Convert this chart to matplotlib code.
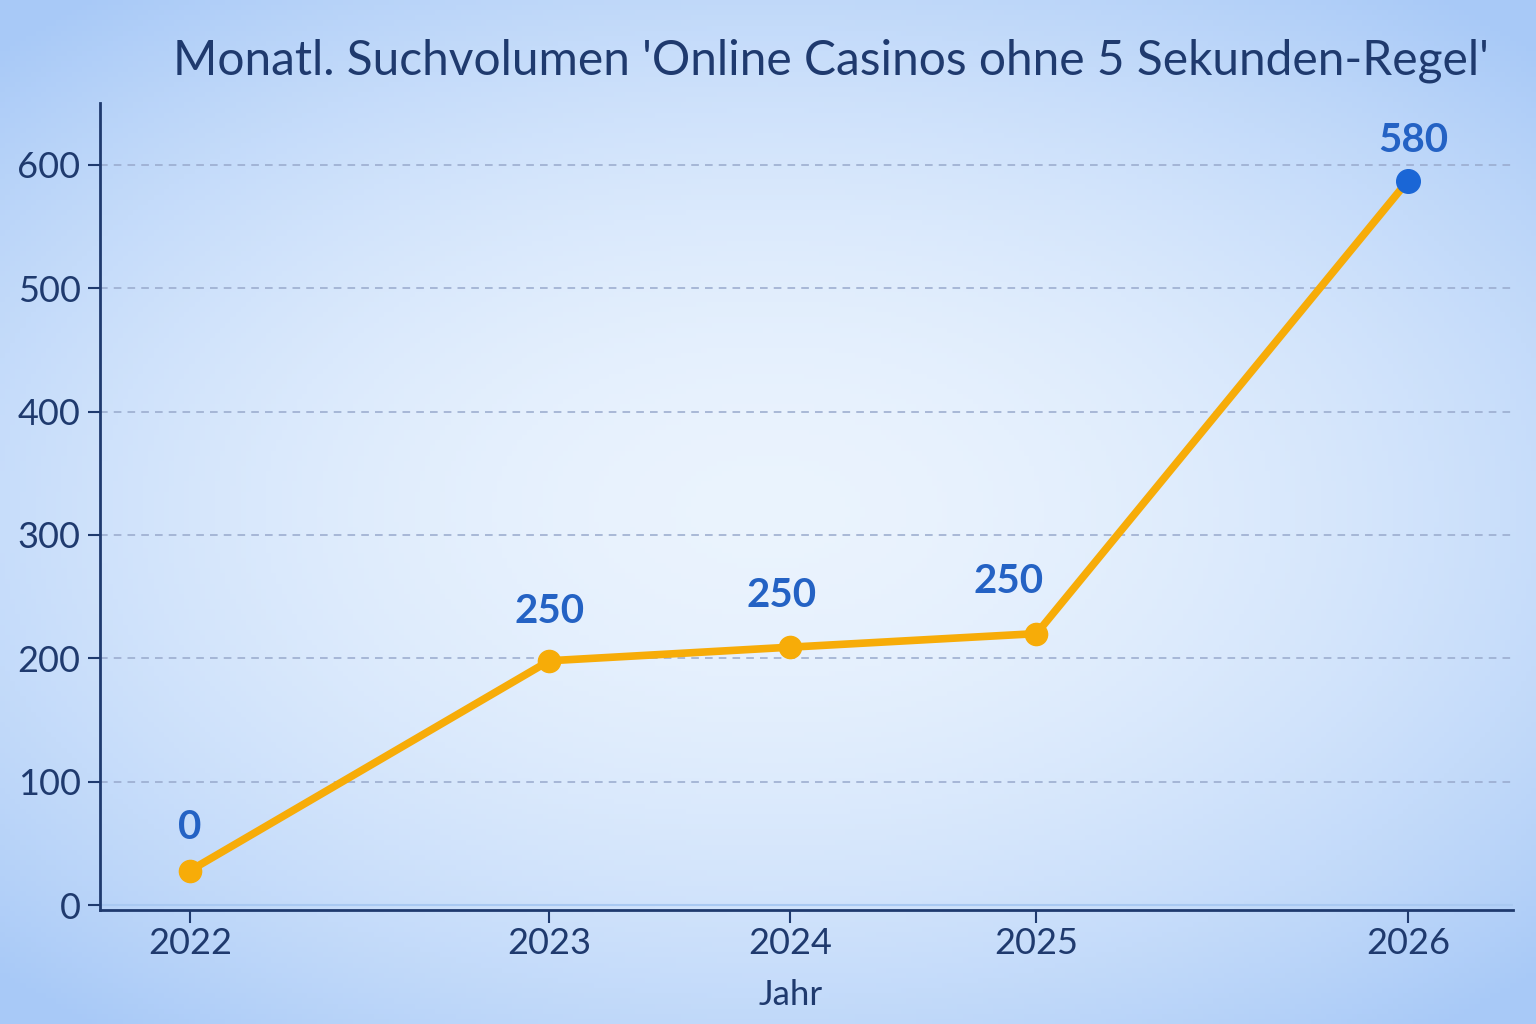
import numpy as np
import matplotlib.pyplot as plt

navyColor = "#1f3a6e"
amberColor = "#f7ac08"
blueColor = "#1a66d6"
labelColor = "#2462c4"

# data
years = ["2022", "2023", "2024", "2025", "2026"]
x_pos = [0.0, 1.18, 1.97, 2.78, 4.0]
volume = [28, 198, 209, 220, 587]
value_labels = ["0", "250", "250", "250", "580"]
y_ticks = [0, 100, 200, 300, 400, 500, 600]

plt.rcParams['font.family'] = ['Lato', 'DejaVu Sans']

fig = plt.figure(figsize=(15.36, 10.24), dpi=100)

# soft radial background
bg = fig.add_axes([0, 0, 1, 1], zorder=-10)
gx, gy = np.meshgrid(np.linspace(-1, 1, 300), np.linspace(-1, 1, 200))
r = np.sqrt((gx * 0.95) ** 2 + (gy * 1.05) ** 2)
r = np.clip(r / 1.35, 0, 1)
inner = np.array([0.92, 0.955, 0.995])
outer = np.array([0.66, 0.79, 0.97])
img = inner[None, None, :] * (1 - r[..., None] ** 1.8) + outer[None, None, :] * r[..., None] ** 1.8
bg.imshow(img, aspect='auto', extent=[0, 1, 0, 1])
bg.axis('off')

ax = fig.add_axes([0.0651, 0.1113, 0.9199, 0.7881])
ax.set_facecolor('none')

ax.plot(x_pos, volume, color=amberColor, lw=5.5, solid_capstyle='round', zorder=3)
ax.plot(x_pos[:-1], volume[:-1], 'o', color=amberColor, ms=16, zorder=4)
ax.plot(x_pos[-1], volume[-1], 'o', color=blueColor, ms=17, zorder=5)

offsets = [(0, 18), (0, 22), (-6, 24), (-20, 24), (4, 16)]
for x, y, lab, off in zip(x_pos, volume, value_labels, offsets):
    ax.annotate(lab, (x, y), xytext=off, textcoords='offset points',
                ha='center', va='bottom', fontsize=29, fontweight='bold', color=labelColor)

ax.set_xlim(-0.296, 4.345)
ax.set_ylim(-4, 650)
ax.set_xticks(x_pos)
ax.set_xticklabels(years)
ax.set_yticks(y_ticks)

for t in y_ticks[1:]:
    ax.axhline(t, color='#98a9cc', lw=1.1, ls=(0, (5, 4)), zorder=1)
ax.axhline(0, color='#a9c9f2', lw=1.5, zorder=1)

ax.tick_params(axis='both', colors=navyColor, labelsize=26, width=1.5, length=9)
ax.tick_params(axis='x', pad=3)
ax.tick_params(axis='y', pad=5)
for s in ('top', 'right'):
    ax.spines[s].set_visible(False)
for s in ('left', 'bottom'):
    ax.spines[s].set_color(navyColor)
    ax.spines[s].set_linewidth(2)

ax.set_xlabel('Jahr', fontsize=25, color=navyColor)
ax.xaxis.set_label_coords(0.489, -0.085)

fig.text(0.541, 0.941, "Monatl. Suchvolumen 'Online Casinos ohne 5 Sekunden-Regel'",
         ha='center', va='center', fontsize=34.5, color=navyColor)

fig.savefig('out.png', dpi=100)
